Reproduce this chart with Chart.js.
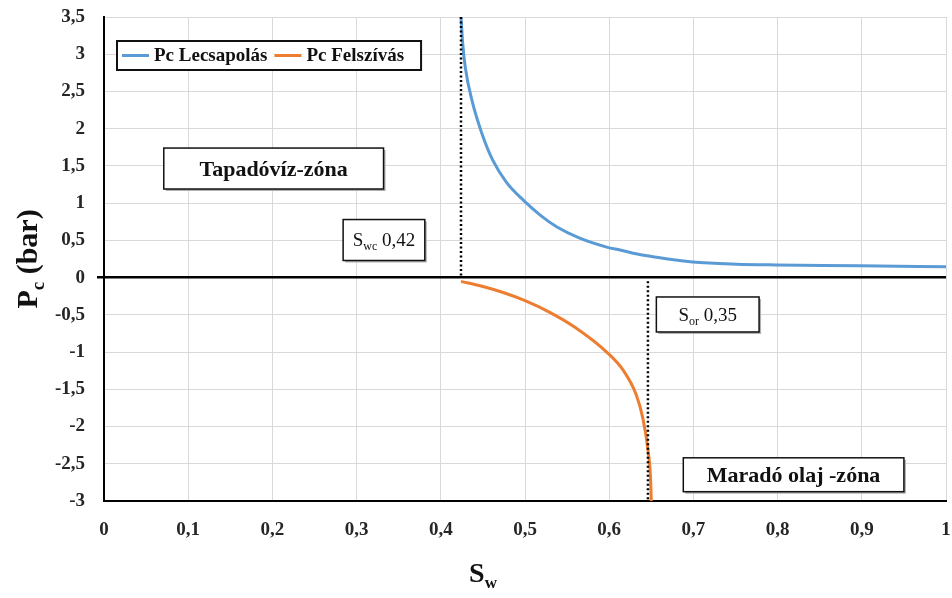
<!DOCTYPE html>
<html>
<head>
<meta charset="utf-8">
<title>Pc (bar) - Sw</title>
<script src="https://cdn.jsdelivr.net/npm/chart.js@4.4.1/dist/chart.umd.min.js"></script>
<style>
  html, body { margin: 0; padding: 0; background: #fff; }
  canvas { display: block; }
</style>
</head>
<body>
<canvas id="pcChart" width="952" height="598"></canvas>
<script>
// Drainage (lecsapolás) capillary pressure curve
const swDrain = [0.424, 0.426, 0.429, 0.437, 0.449, 0.462, 0.478, 0.498, 0.518, 0.538,
                 0.565, 0.597, 0.613, 0.636, 0.652, 0.699, 0.751, 0.798, 0.897, 1.0];
const pcDrain = [3.5, 3.15, 2.83, 2.38, 1.93, 1.57, 1.28, 1.04, 0.84, 0.68,
                 0.53, 0.41, 0.37, 0.31, 0.28, 0.21, 0.18, 0.17, 0.16, 0.145];

// Imbibition (felszívás) capillary pressure curve
const swImb = [0.424, 0.45, 0.474, 0.498, 0.530, 0.561, 0.597, 0.617, 0.632, 0.640, 0.646, 0.649, 0.650];
const pcImb = [-0.05, -0.12, -0.20, -0.30, -0.47, -0.68, -1.00, -1.25, -1.57, -1.89, -2.31, -2.67, -3.0];

// Swc and Sor drop lines
const swcX = [0.424, 0.424];
const swcY = [3.5, 0];
const sorX = [0.646, 0.646];
const sorY = [-0.05, -3];

const seriesLabels = ['Pc Lecsapolás', 'Pc Felszívás'];
const xRange = [0, 1, 0.1];
const yRange = [-3, 3.5, 0.5];

const serif = "'Liberation Serif', 'Times New Roman', serif";
const toPoints = (xs, ys) => xs.map((x, i) => ({ x: x, y: ys[i] }));
const fmt = v => String(Math.round(v * 100) / 100).replace('.', ',');

// text boxes placed in data coordinates
const noteBoxes = [
  { runs: [{ t: 'Tapadóvíz-zóna' }], x: [0.071, 0.332], y: [1.74, 1.19], size: 22, bold: true },
  { runs: [{ t: 'S' }, { t: 'wc', sub: true }, { t: ' 0,42' }], x: [0.284, 0.381], y: [0.78, 0.23], size: 19 },
  { runs: [{ t: 'S' }, { t: 'or', sub: true }, { t: ' 0,35' }], x: [0.656, 0.778], y: [-0.26, -0.73], size: 19 },
  { runs: [{ t: 'Maradó olaj -zóna' }], x: [0.688, 0.950], y: [-2.42, -2.875], size: 22, bold: true }
];

function runFont(r, size, bold) {
  const s = r.sub ? Math.round(size * 0.62) : size;
  return (bold ? 'bold ' : '') + s + 'px ' + serif;
}

function runsWidth(ctx, runs, size, bold) {
  let w = 0;
  runs.forEach(r => { ctx.font = runFont(r, size, bold); w += ctx.measureText(r.t).width; });
  return w;
}

// draws a run of text with subscripts, centred on (cx, cy)
function drawRuns(ctx, runs, cx, cy, size, bold, color) {
  const total = runsWidth(ctx, runs, size, bold);
  let x = cx - total / 2;
  const base = cy + size * 0.33;
  ctx.fillStyle = color || '#000';
  ctx.textAlign = 'left';
  ctx.textBaseline = 'alphabetic';
  runs.forEach(r => {
    ctx.font = runFont(r, size, bold);
    ctx.fillText(r.t, x, r.sub ? base + size * 0.22 : base);
    x += ctx.measureText(r.t).width;
  });
}

const decorPlugin = {
  id: 'decor',
  afterDatasetsDraw(chart) {
    const ctx = chart.ctx;
    const xs = chart.scales.x, ys = chart.scales.y;
    ctx.save();
    noteBoxes.forEach(b => {
      const l = xs.getPixelForValue(b.x[0]), r = xs.getPixelForValue(b.x[1]);
      const t = ys.getPixelForValue(b.y[0]), btm = ys.getPixelForValue(b.y[1]);
      ctx.fillStyle = '#b0b0b0';
      ctx.fillRect(l + 2, t + 2, r - l, btm - t);
      ctx.fillStyle = '#fff';
      ctx.fillRect(l, t, r - l, btm - t);
      ctx.strokeStyle = '#111';
      ctx.lineWidth = 1.5;
      ctx.strokeRect(l, t, r - l, btm - t);
      drawRuns(ctx, b.runs, (l + r) / 2, (t + btm) / 2, b.size, b.bold, '#111');
    });
    ctx.restore();
  },
  afterDraw(chart) {
    const ctx = chart.ctx;
    const area = chart.chartArea;
    ctx.save();

    // legend box inside the plot
    const lx = area.left + 13, ly = area.top + 24, lh = 29;
    const ds = chart.data.datasets.slice(0, 2);
    ctx.font = 'bold 19px ' + serif;
    let x = lx + 5;
    const items = ds.map(d => {
      const it = { x: x, d: d };
      x += 32 + ctx.measureText(d.label).width + 7;
      return it;
    });
    const lw = x - lx + 10;
    ctx.fillStyle = '#fff';
    ctx.fillRect(lx, ly, lw, lh);
    ctx.strokeStyle = '#111';
    ctx.lineWidth = 2;
    ctx.strokeRect(lx, ly, lw, lh);
    items.forEach(it => {
      ctx.strokeStyle = it.d.borderColor;
      ctx.lineWidth = 3;
      ctx.beginPath();
      ctx.moveTo(it.x, ly + lh / 2);
      ctx.lineTo(it.x + 27, ly + lh / 2);
      ctx.stroke();
      ctx.fillStyle = '#111';
      ctx.font = 'bold 19px ' + serif;
      ctx.textAlign = 'left';
      ctx.textBaseline = 'middle';
      ctx.fillText(it.d.label, it.x + 32, ly + lh / 2 + 1);
    });

    // axis titles
    ctx.save();
    ctx.translate(27, (area.top + area.bottom) / 2);
    ctx.rotate(-Math.PI / 2);
    drawRuns(ctx, [{ t: 'P' }, { t: 'c', sub: true }, { t: ' (bar)' }], 0, 0, 30, true, '#111');
    ctx.restore();
    drawRuns(ctx, [{ t: 'S' }, { t: 'w', sub: true }], 483, 573, 28, true, '#111');

    ctx.restore();
  }
};

const lineStyle = {
  borderWidth: 3,
  pointRadius: 0,
  fill: false,
  cubicInterpolationMode: 'monotone'
};

const dotStyle = {
  borderColor: '#000',
  borderWidth: 2.5,
  borderDash: [2, 2.5],
  pointRadius: 0,
  fill: false,
  order: -1
};

new Chart(document.getElementById('pcChart'), {
  type: 'line',
  data: {
    datasets: [
      Object.assign({ label: seriesLabels[0], data: toPoints(swDrain, pcDrain), borderColor: '#5B9BD5' }, lineStyle),
      Object.assign({ label: seriesLabels[1], data: toPoints(swImb, pcImb), borderColor: '#ED7D31' }, lineStyle),
      Object.assign({ label: 'Swc', data: toPoints(swcX, swcY) }, dotStyle),
      Object.assign({ label: 'Sor', data: toPoints(sorX, sorY) }, dotStyle)
    ]
  },
  options: {
    responsive: false,
    animation: false,
    layout: { padding: { top: 17, right: 6, left: 0, bottom: 0 } },
    plugins: { legend: { display: false }, tooltip: { enabled: false } },
    scales: {
      x: {
        type: 'linear',
        min: xRange[0], max: xRange[1],
        ticks: {
          stepSize: xRange[2],
          callback: v => fmt(v),
          font: { family: serif, size: 19, weight: 'bold' },
          color: '#262626',
          padding: 18,
          maxRotation: 0
        },
        grid: { color: '#d9d9d9', lineWidth: 1, drawTicks: false },
        border: { color: '#000', width: 2 },
        afterFit: s => { s.height = 97; s.paddingLeft = 0; s.paddingRight = 0; }
      },
      y: {
        type: 'linear',
        min: yRange[0], max: yRange[1],
        ticks: {
          stepSize: yRange[2],
          callback: v => fmt(v),
          font: { family: serif, size: 19, weight: 'bold' },
          color: '#262626',
          padding: 12
        },
        grid: {
          color: c => (c.tick && Math.abs(c.tick.value) < 1e-9) ? '#000' : '#d9d9d9',
          lineWidth: c => (c.tick && Math.abs(c.tick.value) < 1e-9) ? 2.5 : 1,
          tickColor: c => (c.tick && Math.abs(c.tick.value) < 1e-9) ? '#000' : 'rgba(0,0,0,0)',
          tickLength: 7
        },
        border: { color: '#000', width: 2 },
        afterFit: s => { s.width = 104; s.paddingTop = 0; s.paddingBottom = 0; }
      }
    }
  },
  plugins: [decorPlugin]
});
</script>
</body>
</html>
